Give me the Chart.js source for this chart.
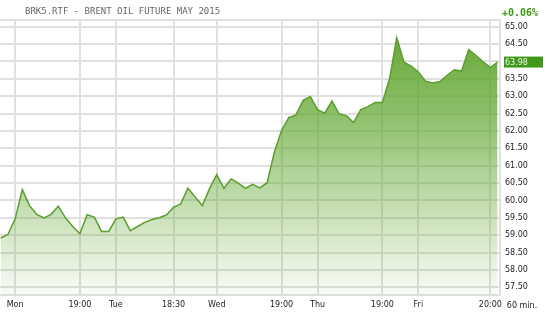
<!DOCTYPE html>
<html><head><meta charset="utf-8">
<script src="https://cdn.jsdelivr.net/npm/chart.js@4.4.1/dist/chart.umd.min.js"></script>
<style>html,body{margin:0;padding:0;background:#fff}#wrap{width:550px;height:317px;position:relative}</style>
</head><body><div id="wrap"><canvas id="c" width="550" height="317"></canvas></div>
<script>
const titleText = "BRK5.RTF - BRENT OIL FUTURE MAY 2015";
const changeText = "+0.06%";
const lastPrice = 63.98;
const intervalText = "60 min.";
const prices = [
  58.92, 59.02, 59.47, 60.31, 59.85, 59.60, 59.50, 59.60, 59.83, 59.50,
  59.25, 59.04, 59.59, 59.52, 59.11, 59.11, 59.47, 59.52, 59.13, 59.25,
  59.37, 59.45, 59.50, 59.58, 59.80, 59.90, 60.35, 60.10, 59.85, 60.34,
  60.74, 60.35, 60.62, 60.50, 60.35, 60.46, 60.36, 60.51, 61.39, 62.01,
  62.38, 62.46, 62.88, 62.99, 62.61, 62.51, 62.86, 62.49, 62.44, 62.24,
  62.61, 62.70, 62.82, 62.82, 63.50, 64.68, 63.98, 63.86, 63.69, 63.43,
  63.38, 63.42, 63.60, 63.76, 63.72, 64.34, 64.17, 63.99, 63.82, 63.98
];
const xTickPositions = [2, 11, 16, 24, 30, 39, 44, 53, 58, 68];
const xTickLabels = ["Mon", "19:00", "Tue", "18:30", "Wed", "19:00", "Thu", "19:00", "Fri", "20:00"];
const yMin = 57.28, yMax = 65.19, yStep = 0.5;

const points = prices.map((v, i) => ({x: i, y: v}));
const GRID = '#e0e0e0';
const LINE = '#5a9e2c';
const AXIS_FONT = {family: 'DejaVu Sans', size: 8};

const overlay = {
  id: 'overlay',
  afterDraw(chart) {
    const ctx = chart.ctx, a = chart.chartArea, ys = chart.scales.y;
    ctx.save();
    ctx.strokeStyle = GRID; ctx.lineWidth = 2;
    ctx.beginPath();
    ctx.moveTo(0, a.top); ctx.lineTo(a.right, a.top); ctx.lineTo(a.right, a.bottom);
    ctx.stroke();
    ctx.fillStyle = '#666';
    ctx.font = '9px "DejaVu Sans Mono"';
    ctx.textBaseline = 'middle'; ctx.textAlign = 'left';
    ctx.fillText(titleText, 25, 12);
    ctx.fillStyle = '#3d9a12';
    ctx.font = 'bold 10px "DejaVu Sans Mono"';
    ctx.fillText(changeText, 502, 13);
    const py = ys.getPixelForValue(lastPrice);
    ctx.fillStyle = '#3f9a1c';
    ctx.fillRect(504, py - 5.5, 39, 11);
    ctx.fillStyle = '#f2f2f2';
    ctx.font = '8px "DejaVu Sans"';
    ctx.fillText(lastPrice.toFixed(2), 505, py + 0.5);
    ctx.fillStyle = '#222';
    ctx.textAlign = 'center';
    ctx.fillText(intervalText, 522, 305.5);
    ctx.restore();
  }
};

new Chart(document.getElementById('c'), {
  type: 'line',
  data: {
    datasets: [{
      data: points,
      borderColor: LINE,
      borderWidth: 1.5,
      pointRadius: 0,
      tension: 0,
      fill: 'start',
      backgroundColor(ctx) {
        const a = ctx.chart.chartArea;
        if (!a) return 'rgba(95,165,45,0.5)';
        const g = ctx.chart.ctx.createLinearGradient(0, a.top, 0, a.bottom);
        g.addColorStop(0, 'rgba(95,165,45,1)');
        g.addColorStop(0.35, 'rgba(95,165,45,0.7)');
        g.addColorStop(1, 'rgba(95,165,45,0.04)');
        return g;
      }
    }]
  },
  options: {
    responsive: false,
    animation: false,
    layout: {padding: {top: 20, left: 0, right: 0, bottom: 0}},
    plugins: {legend: {display: false}, tooltip: {enabled: false}},
    scales: {
      x: {
        type: 'linear', min: -0.1, max: 69.34,
        afterBuildTicks(s) { s.ticks = xTickPositions.map(v => ({value: v})); },
        afterFit(s) { s.height = 22; },
        ticks: {
          autoSkip: false, maxRotation: 0, padding: 5, color: '#222',
          font: AXIS_FONT,
          callback: (v, i) => xTickLabels[i]
        },
        grid: {color: GRID, lineWidth: 2, drawTicks: false},
        border: {display: true, color: GRID, width: 2}
      },
      y: {
        position: 'right', min: yMin, max: yMax,
        afterFit(s) { s.width = 50; },
        ticks: {
          stepSize: yStep, includeBounds: false, padding: 5, color: '#222',
          font: AXIS_FONT,
          callback: v => (Math.abs(v - 64) < 1e-6 ? '' : Number(v).toFixed(2))
        },
        grid: {color: GRID, lineWidth: 2, drawTicks: false},
        border: {display: false}
      }
    }
  },
  plugins: [overlay]
});
</script></body></html>
